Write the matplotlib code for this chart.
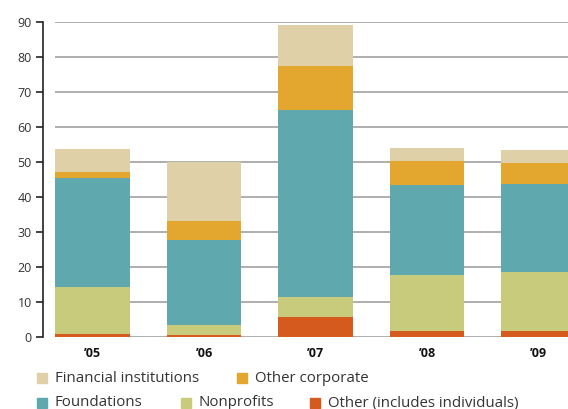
import matplotlib.pyplot as plt
from matplotlib.patches import Rectangle

years = ["\u201905", "\u201906", "\u201907", "\u201908", "\u201909"]
# stacked from bottom to top
other = [1.0, 0.5, 5.6, 1.6, 1.6]
nonprofits = [13.2, 2.8, 5.7, 16.0, 16.9]
foundations = [31.3, 24.5, 53.6, 25.9, 25.3]
other_corporate = [1.5, 5.4, 12.5, 6.9, 6.0]
financial = [6.8, 16.8, 11.7, 3.7, 3.7]

series = [
    ("Other (includes individuals)", other, "#d45a1e"),
    ("Nonprofits", nonprofits, "#c9cb7c"),
    ("Foundations", foundations, "#5fa8ae"),
    ("Other corporate", other_corporate, "#e3a72f"),
    ("Financial institutions", financial, "#dfd0a8"),
]
colors = {name: c for name, _, c in series}

plt.rcParams["font.family"] = ["Open Sans", "DejaVu Sans"]

fig = plt.figure(figsize=(5.68, 4.09), dpi=100)
ax = fig.add_axes([43 / 568, 1 - 337 / 409, 1 - 43 / 568, 315 / 409])

x = list(range(len(years)))
xmin, xmax = -0.444, 4.265
ax.set_xlim(xmin, xmax)
ax.set_ylim(0, 90)

# gridlines start at the first bar edge
ax.hlines(range(0, 91, 10), -0.335, xmax, color="#a8a8a8", lw=1.3, zorder=1)

bottom = [0] * len(years)
for name, vals, c in series:
    ax.bar(x, vals, width=0.67, bottom=bottom, color=c, zorder=2, linewidth=0)
    bottom = [b + v for b, v in zip(bottom, vals)]

for s in ["top", "right", "bottom"]:
    ax.spines[s].set_visible(False)
ax.spines["left"].set_color("#222222")
ax.spines["left"].set_linewidth(1.2)
ax.set_yticks(range(0, 91, 10))
ax.tick_params(axis="y", length=5, width=1.2, color="#222222", labelsize=9,
               labelcolor="#333333", pad=3)
ax.set_xticks(x)
ax.set_xticklabels(years, fontweight="bold", fontsize=9, color="#111111")
ax.tick_params(axis="x", length=0, pad=7)

# legend, placed by hand
legend_items = [
    ("Financial institutions", 37, 378),
    ("Other corporate", 237, 378),
    ("Foundations", 37, 403),
    ("Nonprofits", 181, 403),
    ("Other (includes individuals)", 310, 403),
]
for name, px, py in legend_items:
    fig.patches.append(Rectangle((px / 568, 1 - (py + 5) / 409), 10 / 568, 10 / 409,
                                 transform=fig.transFigure, color=colors[name]))
    fig.text((px + 18) / 568, 1 - py / 409, name, fontsize=10.8, color="#333333",
             va="center", ha="left")

fig.savefig("out.png", dpi=100)
